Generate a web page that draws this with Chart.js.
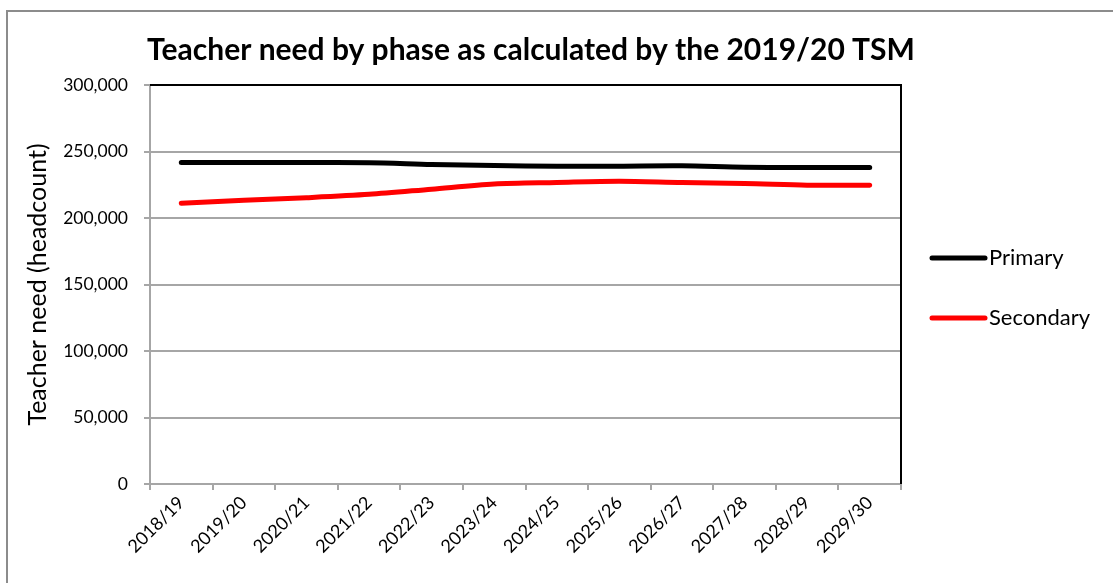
<!DOCTYPE html>
<html>
<head>
<meta charset="utf-8">
<script src="https://cdn.jsdelivr.net/npm/chart.js@4/dist/chart.umd.min.js"></script>
<style>
  html, body { margin: 0; padding: 0; background: #fff; }
  #frame { position: absolute; left: 6px; top: 10px; width: 1200px; height: 700px; border: 2px solid #8c8c8c; }
  #wrap { position: absolute; left: 0; top: 0; width: 1113px; height: 583px; }
</style>
</head>
<body>
<div id="frame"></div>
<div id="wrap"><canvas id="needChart"></canvas></div>
<script>
// Datos
const years = ['2018/19', '2019/20', '2020/21', '2021/22', '2022/23', '2023/24',
               '2024/25', '2025/26', '2026/27', '2027/28', '2028/29', '2029/30'];
const primary = [241700, 241700, 241700, 241600, 240300, 239400,
                 239000, 239000, 239200, 238100, 238000, 238000];
const secondary = [211000, 213300, 215300, 217800, 221700, 225600,
                   226700, 227600, 226600, 226000, 224700, 224600];
const yTicks = [0, 50000, 100000, 150000, 200000, 250000, 300000];

const FONT = 'Lato, "Open Sans", sans-serif';
const GRID = '#a6a6a6';

// Titulo, leyenda y marco del area de trazado
const decorPlugin = {
    id: 'decor',
    afterDraw(chart) {
        const ctx = chart.ctx;
        const area = chart.chartArea;
        ctx.save();
        // marco negro arriba y a la derecha
        ctx.strokeStyle = '#000';
        ctx.lineWidth = 2;
        ctx.beginPath();
        ctx.moveTo(area.left, area.top);
        ctx.lineTo(area.right, area.top);
        ctx.lineTo(area.right, area.bottom);
        ctx.stroke();

        // titulo
        ctx.fillStyle = '#000';
        ctx.font = 'bold 30px ' + FONT;
        ctx.textAlign = 'center';
        ctx.textBaseline = 'middle';
        ctx.fillText('Teacher need by phase as calculated by the 2019/20 TSM', 531, 50);

        // leyenda
        ctx.font = '22px ' + FONT;
        ctx.textAlign = 'left';
        chart.data.datasets.forEach((ds, i) => {
            const y = 258 + i * 60;
            ctx.strokeStyle = ds.borderColor;
            ctx.lineWidth = 5;
            ctx.lineCap = 'round';
            ctx.beginPath();
            ctx.moveTo(932, y);
            ctx.lineTo(985, y);
            ctx.stroke();
            ctx.fillText(ds.label, 989, y);
        });
        ctx.restore();
    }
};

new Chart(document.getElementById('needChart'), {
    type: 'line',
    data: {
        labels: years,
        datasets: [{
            label: 'Primary',
            data: primary,
            borderColor: '#000000',
            backgroundColor: '#000000',
            borderWidth: 5,
            borderCapStyle: 'round',
            pointRadius: 0,
            tension: 0.3
        }, {
            label: 'Secondary',
            data: secondary,
            borderColor: '#ff0000',
            backgroundColor: '#ff0000',
            borderWidth: 5,
            borderCapStyle: 'round',
            pointRadius: 0,
            tension: 0.3
        }]
    },
    options: {
        responsive: true,
        maintainAspectRatio: false,
        animation: false,
        layout: { padding: { left: 18, top: 85, right: 212, bottom: 19 } },
        plugins: {
            legend: { display: false },
            title: { display: false },
            tooltip: { enabled: false }
        },
        scales: {
            x: {
                offset: true,
                grid: {
                    offset: true,
                    drawOnChartArea: false,
                    drawTicks: true,
                    tickLength: 6,
                    color: GRID,
                    lineWidth: 2
                },
                border: { color: GRID, width: 2 },
                ticks: {
                    color: '#000',
                    font: { family: FONT, size: 18 },
                    maxRotation: 45,
                    minRotation: 45,
                    padding: 2
                },
                afterFit(scale) { scale.height = 80; }
            },
            y: {
                min: 0,
                max: 300000,
                afterBuildTicks(scale) { scale.ticks = yTicks.map(v => ({ value: v })); },
                grid: {
                    color: GRID,
                    lineWidth: 2,
                    tickLength: 6
                },
                border: { color: GRID, width: 2 },
                ticks: {
                    color: '#000',
                    font: { family: FONT, size: 17.5 },
                    padding: 16,
                    callback: v => v.toLocaleString('en-US')
                },
                title: {
                    display: true,
                    text: 'Teacher need (headcount)',
                    color: '#000',
                    font: { family: FONT, size: 25 },
                    padding: { top: 5, bottom: 0 }
                },
                afterFit(scale) { scale.width = 132; }
            }
        }
    },
    plugins: [decorPlugin]
});
</script>
</body>
</html>
